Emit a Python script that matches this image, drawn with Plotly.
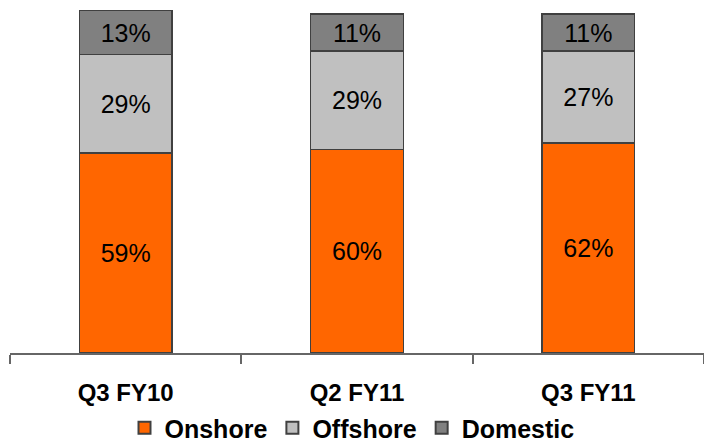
import plotly.graph_objects as go

# Revenue mix by delivery location (% of revenue)
quarters = ["Q3 FY10", "Q2 FY11", "Q3 FY11"]
onshore = [59, 60, 62]
offshore = [29, 29, 27]
domestic = [13, 11, 11]

series = [
    ("Onshore", onshore, "#FF6600"),
    ("Offshore", offshore, "#C0C0C0"),
    ("Domestic", domestic, "#808080"),
]

fig = go.Figure()
for name, values, color in series:
    fig.add_trace(go.Bar(
        name=name,
        x=quarters,
        y=values,
        width=0.4,
        marker=dict(color=color, line=dict(color="#404040", width=1.5)),
        texttemplate="%{y}%",
        textposition="inside",
        insidetextanchor="middle",
        textangle=0,
        constraintext="none",
        textfont=dict(family="Liberation Sans, Arial, sans-serif", size=25, color="#000000"),
    ))

fig.update_layout(
    barmode="stack",
    width=704,
    height=441,
    margin=dict(l=10, r=0, t=0, b=88, autoexpand=False),
    paper_bgcolor="white",
    plot_bgcolor="white",
    showlegend=True,
    legend=dict(
        orientation="h",
        x=0.5, xanchor="center",
        xref="container",
        yref="container",
        y=(441 - 428) / 441, yanchor="middle",
        bgcolor="rgba(0,0,0,0)",
        font=dict(family="Liberation Sans, Arial, sans-serif", size=25, color="#000000"),
        traceorder="normal",
        itemsizing="constant",
    ),
    xaxis=dict(
        type="category",
        range=[-0.5, 2.5],
        automargin=False,
        showline=True,
        linecolor="#666666",
        linewidth=1.5,
        ticks="outside",
        tickson="boundaries",
        ticklen=9,
        tickcolor="#666666",
        tickwidth=1.5,
        showgrid=False,
        tickfont=dict(family="Liberation Sans, Arial, sans-serif", size=24, color="#000000"),
        ticklabelstandoff=17,
    ),
    yaxis=dict(
        range=[0, 104.1],
        visible=False,
        showgrid=False,
        zeroline=False,
    ),
)

# Bold category labels and legend entries
fig.update_xaxes(tickfont_weight="bold")
fig.update_layout(legend_font_weight="bold")

fig.write_html("out.html")
